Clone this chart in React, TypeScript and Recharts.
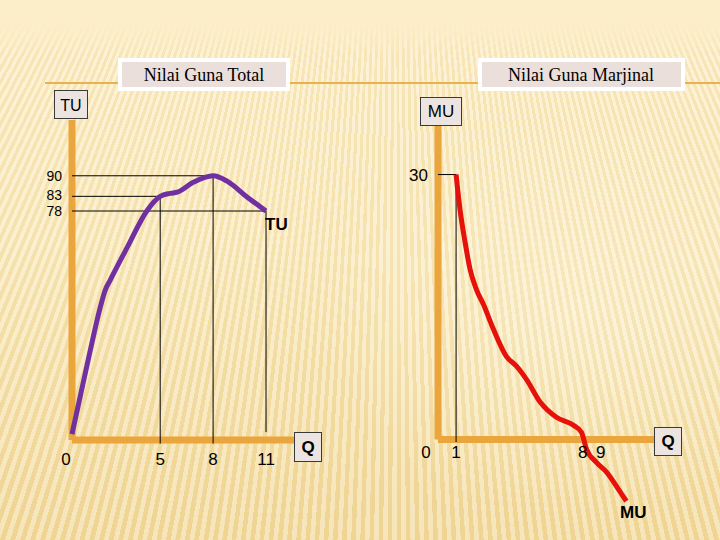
import React from 'react';
import { LineChart, Line, XAxis, YAxis, ReferenceLine, ReferenceDot } from 'recharts';

// ---- Total utility (left chart) ----
const tuQ = [0, 0.95, 1.59, 1.88, 2.16, 3.13, 4.26, 5, 5.57, 5.97, 6.88, 8, 8.81, 9.94, 11];
const tuValues = [2, 28.2, 44.9, 51, 54.4, 65.6, 78.2, 83, 84, 84.4, 87.8, 90, 88.1, 82.7, 78];
const tuXTicks = [0, 5, 8, 11];
const tuYTicks = [78, 83, 90];
// guide lines: [Q, TU] points
const tuGuideQ = [5, 8, 11];
const tuGuideTU = [83, 90, 78];

// ---- Marginal utility (right chart) ----
const muQ = [1, 1.22, 1.5, 1.77, 2.12, 2.51, 3.06, 3.78, 4.34, 4.89, 5.66, 6.55, 7.49, 7.93, 8.21, 8.76, 9.32, 10.09, 10.42];
const muValues = [30, 26, 22.3, 19.3, 17, 15.3, 12.5, 9.4, 8.3, 6.8, 4.2, 2.5, 1.6, 0.8, -1.1, -2.6, -3.7, -6, -7];
const muXTicks = [0, 1, 8, 9];
const muYTicks = [30];

const tuData = tuQ.map((q, i) => ({ q, tu: tuValues[i] }));
const muData = muQ.map((q, i) => ({ q, mu: muValues[i] }));

const SANS = "'Liberation Sans', Arial, sans-serif";
const SERIF = "'Liberation Serif', 'Times New Roman', serif";
const ORANGE = '#EAA53D';

const LeftTick = (props: any) => {
  const { x, y, payload } = props;
  const dx = payload.value === 0 ? -6 : 0;
  return (
    <text x={x + dx} y={y} dy="0.71em" textAnchor="middle" fontSize={17} fill="#000" fontFamily={SANS}>
      {payload.value}
    </text>
  );
};

const LeftYTick = (props: any) => {
  const { x, y, payload } = props;
  const nudge = payload.value === 83 ? -1 : payload.value === 78 ? 0.5 : 0;
  return (
    <text x={x} y={y + nudge} dy="0.355em" textAnchor="end" fontSize={14} fill="#000" fontFamily={SANS}>
      {payload.value}
    </text>
  );
};

const bg = [
  'linear-gradient(to bottom, #FCEEC8 0px, #FCEEC8 24px, rgba(252,238,200,0) 55px)',
  'repeating-conic-gradient(from 0deg at 55% -120%, rgba(255,255,255,0.3) 0deg 0.22deg, rgba(190,140,30,0.08) 0.22deg 0.44deg)',
  'radial-gradient(ellipse 260px 200px at 80% 58%, rgba(255,250,228,0.45) 0%, rgba(255,250,228,0) 100%)',
  'linear-gradient(to bottom, #FCEEC6 0%, #FAE9BA 45%, #F3DA9C 100%)',
].join(',');

export default function App() {
  return (
    <div style={{ position: 'fixed', left: 0, top: 0, width: 720, height: 540, background: bg, overflow: 'hidden' }}>
      {/* top decorative line */}
      <div style={{ position: 'absolute', left: 45, top: 82, width: 675, height: 2, background: '#E8B24E' }} />

      {/* Left chart: TU */}
      <div style={{ position: 'absolute', left: 0, top: 0 }}>
        <LineChart width={360} height={540} data={tuData} margin={{ top: 120, right: 64, bottom: 70, left: 0 }}>
          <XAxis
            dataKey="q"
            type="number"
            domain={[0, 12.7]}
            ticks={tuXTicks}
            axisLine={false}
            tickLine={false}
            tickSize={6}
            tickMargin={7}
            height={30}
            tick={<LeftTick />}
            interval={0}
          />
          <YAxis
            type="number"
            domain={[0, 109]}
            ticks={tuYTicks}
            axisLine={false}
            tickLine={false}
            tickSize={6}
            tickMargin={4}
            width={72}
            interval={0}
            tick={<LeftYTick />}
          />
          <ReferenceLine segment={[{ x: 0, y: 0 }, { x: 0, y: 109 }]} stroke={ORANGE} strokeWidth={7} ifOverflow="visible" />
          <ReferenceLine segment={[{ x: 0, y: 0 }, { x: 12.7, y: 0 }]} stroke={ORANGE} strokeWidth={7} ifOverflow="visible" />
          {tuGuideQ.map((q, i) => (
            <ReferenceLine key={'h' + i} segment={[{ x: 0, y: tuGuideTU[i] }, { x: q, y: tuGuideTU[i] }]} stroke="#000" strokeWidth={1} ifOverflow="visible" />
          ))}
          {tuGuideQ.map((q, i) => (
            <ReferenceLine key={'v' + i} segment={[{ x: q, y: q === 11 ? 2.7 : -1.2 }, { x: q, y: tuGuideTU[i] }]} stroke="#000" strokeWidth={1} ifOverflow="visible" />
          ))}
          <Line dataKey="tu" type="monotone" stroke="#7030A0" strokeWidth={5} dot={false} isAnimationActive={false} />
        </LineChart>
      </div>

      {/* Right chart: MU */}
      <div style={{ position: 'absolute', left: 360, top: 0 }}>
        <LineChart width={360} height={540} data={muData} margin={{ top: 126, right: 65, bottom: 30, left: 0 }}>
          <XAxis dataKey="q" type="number" domain={[0, 12]} hide />
          <YAxis
            type="number"
            domain={[-8, 35.5]}
            ticks={muYTicks}
            axisLine={false}
            tickLine={false}
            tickSize={6}
            tickMargin={4}
            width={78}
            interval={0}
            tick={{ fontSize: 17, fill: '#000', fontFamily: SANS }}
          />
          <ReferenceLine segment={[{ x: 0, y: 0 }, { x: 0, y: 35.5 }]} stroke={ORANGE} strokeWidth={7} ifOverflow="visible" />
          <ReferenceLine segment={[{ x: 0, y: 0 }, { x: 12, y: 0 }]} stroke={ORANGE} strokeWidth={7} ifOverflow="visible" />
          <ReferenceLine segment={[{ x: 0, y: muValues[0] }, { x: muQ[0], y: muValues[0] }]} stroke="#000" strokeWidth={1} ifOverflow="visible" />
          <ReferenceLine segment={[{ x: muQ[0], y: -0.3 }, { x: muQ[0], y: muValues[0] }]} stroke="#000" strokeWidth={1} ifOverflow="visible" />
          {muXTicks.map((q) => (
            <ReferenceDot
              key={'t' + q}
              x={q}
              y={0}
              r={1}
              fill="none"
              stroke="none"
              ifOverflow="visible"
              label={{ value: String(q), position: 'bottom', offset: 6, fontSize: 17, fill: '#000', fontFamily: SANS, dx: q === 0 ? -12 : 0 }}
            />
          ))}
          <Line dataKey="mu" type="monotone" stroke="#E6110A" strokeWidth={5} dot={false} isAnimationActive={false} />
        </LineChart>
      </div>

      {/* Annotation overlay */}
      <svg width={720} height={540} style={{ position: 'absolute', left: 0, top: 0, pointerEvents: 'none' }}>
        {/* title boxes */}
        <rect x={120} y={60} width={168} height={29} fill="#EADFDB" stroke="#FFFFFF" strokeWidth={4} />
        <text x={204} y={81} textAnchor="middle" fontSize={18} fontFamily={SERIF} fill="#000">Nilai Guna Total</text>
        <rect x={480} y={60} width={203} height={29} fill="#EADFDB" stroke="#FFFFFF" strokeWidth={4} />
        <text x={581} y={81} textAnchor="middle" fontSize={18} fontFamily={SERIF} fill="#000">Nilai Guna Marjinal</text>

        {/* axis name boxes */}
        <rect x={54.5} y={90.5} width={33} height={28} fill="#ECE4E1" stroke="#3A3A3A" strokeWidth={1} />
        <text x={71} y={111} textAnchor="middle" fontSize={16} fontFamily={SANS} fill="#000">TU</text>
        <rect x={420.5} y={97.5} width={41} height={28} fill="#ECE4E1" stroke="#3A3A3A" strokeWidth={1} />
        <text x={441} y={117} textAnchor="middle" fontSize={17} fontFamily={SANS} fill="#000">MU</text>
        <rect x={294.5} y={432.5} width={27} height={29} fill="#ECE4E1" stroke="#3A3A3A" strokeWidth={1} />
        <text x={308} y={453} textAnchor="middle" fontSize={17} fontWeight="bold" fontFamily={SANS} fill="#000">Q</text>
        <rect x={654.5} y={427.5} width={27} height={28} fill="#ECE4E1" stroke="#3A3A3A" strokeWidth={1} />
        <text x={668} y={447} textAnchor="middle" fontSize={17} fontWeight="bold" fontFamily={SANS} fill="#000">Q</text>

        {/* curve names */}
        <text x={265} y={230} fontSize={17} fontWeight="bold" fontFamily={SANS} fill="#000">TU</text>
        <text x={620} y={518} fontSize={17} fontWeight="bold" fontFamily={SANS} fill="#000">MU</text>
      </svg>
    </div>
  );
}
